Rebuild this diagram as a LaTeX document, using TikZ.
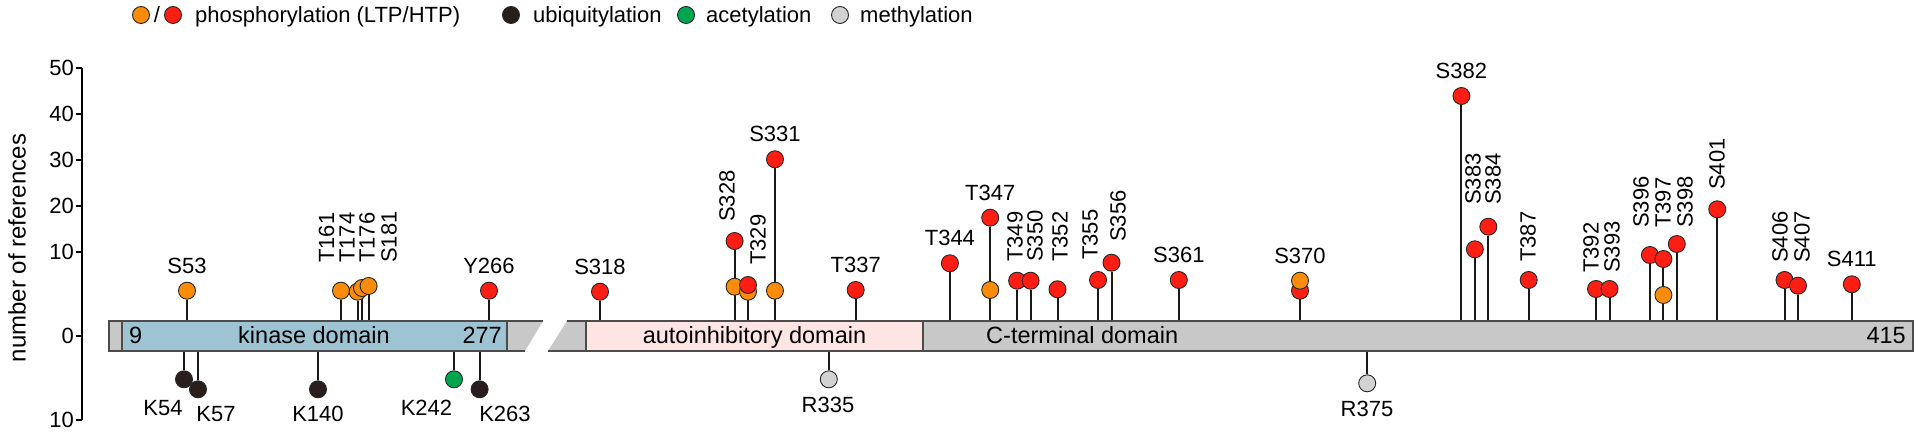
\documentclass[tikz,border=0pt]{standalone}
\usepackage{fontspec}
\setmainfont{Liberation Sans}
\usetikzlibrary{positioning}

\definecolor{ltp}{RGB}{250,140,10}
\definecolor{htp}{RGB}{255,30,20}
\definecolor{ubi}{RGB}{42,30,28}
\definecolor{ace}{RGB}{0,165,80}
\definecolor{met}{RGB}{210,210,210}
\definecolor{kinase}{RGB}{158,196,212}
\definecolor{autoinh}{RGB}{255,228,228}
\definecolor{bargrey}{RGB}{200,200,200}

\pgfdeclarelayer{bg}
\pgfsetlayers{bg,main}

\tikzset{
  site/.style={circle, draw=black!85, line width=0.9pt, minimum size=17pt, inner sep=0pt},
  stem/.style={line width=2pt, black!90},
  lab/.style={font=\fontsize{22}{26}\selectfont, inner sep=0pt},
  vlab/.style={lab, rotate=90, anchor=west},
  barlab/.style={font=\fontsize{23.5}{28}\selectfont, inner sep=0pt, anchor=base},
  outl/.style={draw=black!70, line width=1.4pt}
}

\begin{document}
\begin{tikzpicture}[x=1pt,y=1pt]
	\useasboundingbox (0,-100) rectangle (1920,336);

	% legend
	\node[site,fill=ltp] (legLTP) at (141,321) {};
	\node[lab] (legSlash) at (157,321) {/};
	\node[site,fill=htp] (legHTP) at (173,321) {};
	\node[lab,anchor=base west] (legPho) at (195,313) {phosphorylation (LTP/HTP)};
	\node[site,fill=ubi] (legUbi) at (511,321) {};
	\node[lab,anchor=base west] (legUbiT) at (533,313) {ubiquitylation};
	\node[site,fill=ace] (legAce) at (686,321) {};
	\node[lab,anchor=base west] (legAceT) at (706,313) {acetylation};
	\node[site,fill=met] (legMet) at (840,321) {};
	\node[lab,anchor=base west] (legMetT) at (860,313) {methylation};

	% axis
	\node[lab,rotate=90,font=\fontsize{24}{28}\selectfont] (ylab) at (17,88) {number of references};
	\draw[line width=2.2pt] (82,268) -- (82,-84);
	\foreach \t/\y in {50/268,40/222,30/176,20/130,10/84,0/0,10/-84}{
		\draw[line width=2pt] (76,\y) -- (82,\y);
		\node[lab,anchor=east] (tick\y) at (74,\y) {\t};
	}

	% protein bar
	\fill[bargrey] (109,-15) -- (109,15) -- (543,15) -- (525,-15) -- cycle;
	\draw[outl] (543,15) -- (109,15) -- (109,-15) -- (525,-15);
	\draw[outl,fill=kinase] (122,-15) rectangle (507,15);
	\fill[bargrey] (548,-15) -- (567,15) -- (1913,15) -- (1913,-15) -- cycle;
	\draw[outl] (567,15) -- (1913,15) -- (1913,-15) -- (548,-15);
	\draw[outl,fill=autoinh] (586,-15) rectangle (923,15);
	\node[barlab,anchor=base west] (aa9) at (129,-8) {9};
	\node[barlab] (kinT) at (314,-8) {kinase domain};
	\node[barlab,anchor=base east] (aa277) at (502,-8) {277};
	\node[barlab] (autoT) at (754.5,-8) {autoinhibitory domain};
	\node[barlab,anchor=base west] (ctermT) at (986,-8) {C-terminal domain};
	\node[barlab,anchor=base east] (aa415) at (1906,-8) {415};

	% second marker on a shared stem
	\foreach \n/\x/\y/\c in {S328o/734.6/49.3/ltp, T329o/748/44.3/ltp, S331o/775/45.3/ltp,
		T347o/990.2/46/ltp, S370r/1300/45.3/htp, T397o/1663.4/41/ltp}
		\node[site,fill=\c] (\n) at (\x,\y) {};

	% sites above the bar
	\foreach \n/\x/\y/\c in {S53/187/45.3/ltp, T161/341/45.3/ltp, T174/357.6/44.3/ltp,
		T176/362/48/ltp, S181/368.6/50/ltp, Y266/489/45.3/htp, S318/600/44.3/htp,
		S328/734.6/95/htp, T329/748/51/htp, S331/775/176.7/htp, T337/855.7/46/htp,
		T344/949.9/72.7/htp, T347/990.2/118.3/htp, T349/1017.1/55.3/htp,
		S350/1030.6/55.3/htp, T352/1057.5/46.7/htp, T355/1098/56/htp,
		S356/1111.5/73.3/htp, S361/1178.8/56/htp, S370/1300/55.3/ltp,
		S382/1461.4/240/htp, S383/1474.9/86.7/htp, S384/1488.3/109.3/htp,
		T387/1528.7/56/htp, T392/1596/47/htp, S393/1609.5/47/htp,
		S396/1649.9/81/htp, T397/1663.4/77/htp, S398/1676.8/92/htp,
		S401/1717.2/126.7/htp, S406/1784.5/56/htp, S407/1798/50.3/htp,
		S411/1851.8/51.7/htp}{
		\node[site,fill=\c] (\n) at (\x,\y) {};
		\coordinate (b\n) at (\x,15);
		\begin{pgfonlayer}{bg}
			\draw[stem] (b\n) -- (\n);
		\end{pgfonlayer}
	}

	% sites below the bar
	\foreach \n/\x/\y/\c in {K54/184/-43.3/ubi, K57/198/-53.3/ubi, K140/318/-53.3/ubi,
		K242/454/-43.3/ace, K263/479.6/-53.3/ubi, R335/828.8/-43.3/met,
		R375/1367.2/-47.3/met}{
		\node[site,fill=\c] (\n) at (\x,\y) {};
		\coordinate (b\n) at (\x,-15);
		\begin{pgfonlayer}{bg}
			\draw[stem] (b\n) -- (\n);
		\end{pgfonlayer}
	}

	% labels
	\foreach \n in {S53,Y266,S318,S331,T337,T344,T347,S361,S370,S382,S411}
		\node[lab,above=8pt of \n] (l\n) {\n};
	\foreach \n/\x/\y in {T161/326.5/73, T174/347/73, T176/367/73, S181/389/73,
		S328/727/114, T329/758/71, T349/1015/74, S350/1035/74, T352/1060/74,
		T355/1090/76, S356/1118/94, S383/1473/131, S384/1493/131, T387/1528/74,
		T392/1591/63, S393/1612/63, S396/1641/108, T397/1663/108, S398/1685/108,
		S401/1717/146, S406/1780/73, S407/1802/73}
		\node[vlab] (l\n) at (\x,\y) {\n};
	\foreach \n/\x/\y in {K54/163/-80, K57/216/-86, K140/318/-86, K242/426.5/-80,
		K263/505/-86, R335/828/-77, R375/1367/-81}
		\node[lab,anchor=base] (l\n) at (\x,\y) {\n};
\end{tikzpicture}
\end{document}
